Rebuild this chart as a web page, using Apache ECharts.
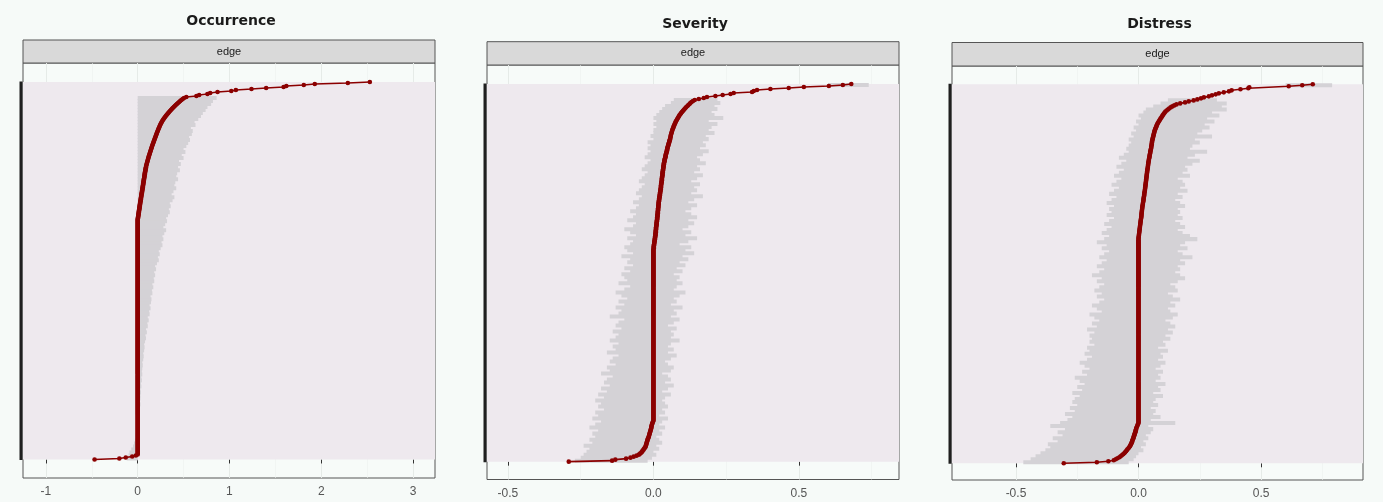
<!DOCTYPE html>
<html><head><meta charset="utf-8">
<script src="https://cdn.jsdelivr.net/npm/echarts@6/dist/echarts.min.js"></script>
<style>html,body{margin:0;padding:0;background:#f6faf8}#c{width:1383px;height:502px}</style>
</head><body><div id="c"></div><script>
const titles = ['Occurrence', 'Severity', 'Distress'];
const stripLabel = 'edge';
const occTicks = [-1, 0, 1, 2, 3];
const occMinor = [-0.5, 0.5, 1.5, 2.5];
const sevTicks = [-0.5, 0, 0.5];
const sevMinor = [-0.25, 0.25, 0.75];
const disTicks = [-0.5, 0, 0.5];
const disMinor = [-0.25, 0.25, 0.75];
// edges sorted by sample estimate (bottom -> top), one value per edge
const occSample = [
-.47,-.2,-.13,-.06,-.02, 0,0,0,0,0, 0,0,0,0,0, 0,0,0,0,0, 0,
0,0,0,0,0,0,0,0,0,0, 0,0,0,0,0,0,0,0,0,0, 0,
0,0,0,0,0,0,0,0,0,0, 0,0,0,0,0,0,0,0,0,0, 0,
0,0,0,0,0,0,0,0,0,0, 0,0,0,0,0,0,0,0,0,0, 0,
0,0,0,0,0,0,0,0,0,0, 0,0,0,0,0,0,0,0,0,0, 0,
0,0,0,0,0,0,0,0,0,0, 0,0,0,0,0,0,0,0,0,0, 0,
0,0,0,0,0,0,0,0,0,0, 0,0,0,0,0,0,0,0,0,0, 0,
0,0,0,0,0,0,0,0,0,0, 0,0,0,0,0,0,0,0,0,0, 0,
0,0,0,0,0,0,0,0,0,0, 0,0,0,0,0,0,0,0,0,0, 0,
0,0,0,0,0,0,0,0,0,0, 0,0,0,0,0,0,0,0,0,0, 0,
0,0,0,0,0,0,0,0,0,0, 0,0,0,0,0,0,0,0,0,0, 0,
0,0,0,0,0,0,0,0,0,0, .002,.004,.006,.007,.009,.010,.012,.013,.015,.017, .019,
.020,.022,.023,.025,.027, .028,.030,.032,.034,.035, .037,.039,.040,.042,.044, .046,.048,.049,.051,.053, .055,
.056,.058,.060,.061,.063, .065,.066,.068,.070,.072, .073,.075,.077,.078,.080, .082,.084,.086,.088,.090, .092,
.095,.098,.101,.104,.107, .110,.113,.116,.119,.122, .126,.129,.133,.136,.140, .143,.147,.150,.154,.157, .161,
.165,.169,.173,.177,.181, .185,.189,.193,.197,.201, .205,.209,.213,.218,.222, .226,.231,.236,.240,.245, .250,
.256,.262,.268,.275,.282, .290,.298,.306,.315,.324, .333,.342,.352,.362,.372, .382,.393,.404,.415,.427, .439,
.451,.463,.476,.490,.505, .53,.64,.67,.76,.79, .87,1.02,1.07,1.24,1.40, 1.59,1.62,1.81,1.93,2.29, 2.53
];
const sevSample = [
-.291,-.142,-.131,-.094,-.079, -.068,-.058,-.050,-.046,-.042, -.039,-.037,-.034,-.032,-.029, -.027,-.026,-.025,-.024,-.023, -.022,
-.021,-.020,-.019,-.017,-.016, -.015,-.014,-.013,-.012,-.011, -.010,-.009,-.008,-.007,-.007, -.006,-.005,-.004,-.003,-.001, 0,
0,0,0,0,0,0,0,0,0,0, 0,0,0,0,0,0,0,0,0,0, 0,
0,0,0,0,0,0,0,0,0,0, 0,0,0,0,0,0,0,0,0,0, 0,
0,0,0,0,0,0,0,0,0,0, 0,0,0,0,0,0,0,0,0,0, 0,
0,0,0,0,0,0,0,0,0,0, 0,0,0,0,0,0,0,0,0,0, 0,
0,0,0,0,0,0,0,0,0,0, 0,0,0,0,0,0,0,0,0,0, 0,
0,0,0,0,0,0,0,0,0,0, 0,0,0,0,0,0,0,0,0,0, 0,
0,0,0,0,0,0,0,0,0,0, 0,0,0,0,0,0,0,0,0,0, 0,
0,0,0,0,0,0,0,0,0,0, 0,0,0,0,0,0,0,0,0,0, 0,
0,0,0,.001,.001, .001,.002,.002,.003,.003, .004,.004,.005,.005,.006, .006,.007,.007,.007,.008, .008,
.008,.009,.009,.009,.010, .010,.011,.011,.011,.012, .012,.013,.013,.013,.014, .014,.014,.015,.015,.015, .016,
.016,.016,.017,.017,.017, .018,.018,.018,.019,.019, .020,.020,.021,.021,.022, .022,.023,.023,.024,.024, .025,
.025,.026,.026,.026,.027, .027,.028,.028,.029,.029, .029,.030,.030,.031,.031, .031,.032,.032,.033,.033, .034,
.034,.035,.035,.036,.036, .037,.038,.038,.039,.040, .041,.042,.042,.043,.044, .045,.046,.047,.047,.048, .049,
.050,.051,.052,.053,.054, .055,.056,.057,.058,.059, .059,.060,.061,.062,.063, .064,.065,.066,.068,.069, .070,
.072,.073,.075,.076,.078, .080,.082,.084,.086,.088, .090,.093,.095,.098,.101, .104,.107,.110,.113,.117, .120,
.124,.127,.131,.136,.142, .156,.173,.184,.213,.238, .265,.276,.339,.345,.356, .402,.465,.517,.603,.651, .680
];
const disSample = [
-.305,-.170,-.123,-.101,-.093, -.086,-.078,-.073,-.068,-.063, -.058,-.055,-.051,-.048,-.045, -.041,-.038,-.035,-.033,-.031, -.029,
-.027,-.026,-.025,-.023,-.021, -.020,-.019,-.017,-.016,-.015, -.013,-.012,-.011,-.010,-.009, -.007,-.005,-.004,-.002,0, 0,
0,0,0,0,0,0,0,0,0,0, 0,0,0,0,0,0,0,0,0,0, 0,
0,0,0,0,0,0,0,0,0,0, 0,0,0,0,0,0,0,0,0,0, 0,
0,0,0,0,0,0,0,0,0,0, 0,0,0,0,0,0,0,0,0,0, 0,
0,0,0,0,0,0,0,0,0,0, 0,0,0,0,0,0,0,0,0,0, 0,
0,0,0,0,0,0,0,0,0,0, 0,0,0,0,0,0,0,0,0,0, 0,
0,0,0,0,0,0,0,0,0,0, 0,0,0,0,0,0,0,0,0,0, 0,
0,0,0,0,0,0,0,0,0,0, 0,0,0,0,0,0,0,0,0,0, 0,
0,0,0,0,0,0,0,0,0,0, 0,0,0,0,0,0,0,0,0,0, 0,
0,0,0,0,0, 0,0,0,0,0, 0,0,0,0,0, .001,.001,.002,.002,.003, .003,
.004,.004,.005,.005,.006, .006,.007,.007,.008,.008, .009,.009,.010,.011,.011, .012,.012,.012,.013,.013, .014,
.014,.015,.015,.016,.016, .017,.018,.018,.019,.020, .020,.021,.021,.022,.023, .023,.024,.024,.025,.026, .026,
.027,.027,.028,.028,.029, .029,.030,.030,.031,.031, .032,.032,.033,.033,.034, .034,.035,.035,.036,.036, .037,
.038,.038,.039,.039,.040, .040,.041,.042,.042,.043, .044,.045,.045,.046,.047, .048,.048,.049,.050,.051, .052,
.052,.053,.054,.054,.055, .055,.056,.057,.058,.059, .060,.061,.062,.063,.064, .065,.066,.068,.069,.071, .073,
.074,.076,.078,.080,.083, .085,.088,.090,.093,.096, .098,.101,.104,.107,.110, .115,.120,.125,.131,.138, .146,
.155,.170,.190,.205,.225, .240,.255,.267,.287,.300, .315,.328,.348,.369,.380, .416,.448,.452,.613,.668, .711
];
// bootstrap CI bounds, one entry per block of ciGroup consecutive edges
const ciGroup = 3;
const occLow = [
-.12,-.10,-.09,-.07,-.05, -.04,-.03,-.02,-.02,-.01, -.01,0,0,0,0, 0,0,0,0,0, 0,
0,0,0,0,0, 0,0,0,0,0, 0,0,0,0,0, 0,0,0,0,0, 0,
0,0,0,0,0, 0,0,0,0,0, 0,0,0,0,0, 0,0,0,0,0, 0,
0,0,0,0,0, 0,0,0,0,0, 0,0,0,0,0, 0,0,0,0,0, 0,
0,0,0,0,0, 0,0,0,0,0, 0,0,0,0,0, 0,0,0,0,0, 0,
0,0,0,0,0, 0,0,0,0,0, 0,0,0,0,0, 0,0,0,0,0, 0
];
const occHigh = [
0,0,0,0,0, .005,.005,.005,.01,.01, .015,.02,.02,.015,.02, .025,.02,.025,.03,.025, .03,
.03,.035,.03,.04,.035, .045,.04,.05,.045,.05, .055,.05,.06,.065,.06, .07,.075,.07,.08,.09, .085,
.10,.09,.11,.105,.12, .11,.13,.125,.14,.13, .145,.15,.14,.16,.155, .17,.16,.18,.175,.19, .18,
.20,.19,.21,.23,.22, .24,.23,.25,.27,.26, .28,.27,.29,.31,.28, .30,.32,.31,.33,.35, .34,
.36,.35,.38,.40,.37, .39,.42,.40,.41,.44, .42,.43,.46,.44,.47, .45,.50,.48,.52,.50, .53,
.55,.57,.56,.59,.60, .58,.63,.62,.66,.69, .71,.74,.76,.80,.82, .86,0,0,0,0, 0
];
const sevLow = [
-.27,-.25,-.24,-.23,-.22, -.24,-.21,-.22,-.20,-.21, -.19,-.22,-.20,-.18,-.21, -.19,-.20,-.17,-.19,-.18, -.20,
-.17,-.19,-.16,-.18,-.15, -.17,-.16,-.14,-.18,-.15, -.16,-.13,-.15,-.14,-.12, -.16,-.13,-.14,-.12,-.15, -.13,
-.12,-.14,-.11,-.13,-.12, -.10,-.15,-.12,-.11,-.13, -.10,-.12,-.09,-.11,-.13, -.10,-.08,-.12,-.09,-.10, -.11,
-.08,-.10,-.07,-.09,-.08, -.11,-.07,-.09,-.10,-.08, -.07,-.09,-.06,-.08,-.10, -.07,-.06,-.09,-.07,-.06, -.08,
-.06,-.05,-.07,-.05,-.04, -.06,-.05,-.04,-.03,-.05, -.04,-.03,-.02,-.04,-.03, -.02,-.01,-.03,-.02,-.01, -.02,
-.01,-.02,0,-.01,0, 0,.01,0,.01,0, .01,.02,.03,.04,.06, .07,0,0,0,0, .60
];
const sevHigh = [
-.02,-.005,.01,0,.02, .01,.03,.02,.01,.03, .02,.04,.02,.03,.05, .02,.04,.03,.05,.04, .03,
.04,.06,.03,.05,.07, .04,.06,.05,.03,.06, .07,.05,.04,.06,.08, .05,.07,.05,.06,.09, .06,
.07,.06,.08,.05,.07, .09,.06,.08,.07,.10, .06,.08,.07,.09,.11, .07,.08,.10,.08,.09, .07,
.10,.08,.11,.09,.12, .10,.14,.11,.13,.09, .12,.15,.11,.13,.10, .12,.14,.12,.15,.13, .11,
.13,.15,.12,.14,.17, .13,.15,.14,.16,.13, .15,.17,.14,.16,.15, .18,.16,.15,.17,.19, .16,
.18,.17,.19,.18,.21, .19,.20,.22,.19,.24, .21,.20,.22,.21,.23, .22,0,0,0,0, .74
];
const disLow = [
-.47,-.44,-.42,-.40,-.38, -.36,-.37,-.33,-.35,-.31, -.33,-.30,-.36,-.32,-.29, -.27,-.30,-.26,-.28,-.25, -.27,
-.26,-.24,-.27,-.23,-.25, -.22,-.24,-.26,-.21,-.23, -.20,-.22,-.24,-.21,-.19, -.22,-.20,-.21,-.18,-.20, -.19,
-.20,-.18,-.21,-.17,-.19, -.16,-.18,-.20,-.15,-.17, -.19,-.16,-.14,-.17,-.15, -.18,-.16,-.14,-.17,-.15, -.19,
-.16,-.14,-.17,-.15,-.13, -.16,-.14,-.12,-.15,-.13, -.17,-.14,-.12,-.15,-.13, -.11,-.14,-.12,-.10,-.13, -.11,
-.12,-.10,-.13,-.11,-.09, -.12,-.10,-.08,-.11,-.09, -.07,-.10,-.08,-.06,-.09, -.07,-.05,-.08,-.06,-.04, -.05,
-.04,-.03,-.04,-.02,-.03, -.01,-.02,0,-.01,.01, 0,.02,.03,.06,.09, .12,0,0,0,0, .60
];
const disHigh = [
-.04,-.02,-.01,0,.02, .01,.03,.02,.04,.03, .05,.06,.04,.15,.05, .09,.06,.07,.05,.08, .06,
.07,.10,.06,.09,.08, .11,.07,.09,.08,.10, .07,.09,.11,.08,.10, .09,.12,.08,.11,.10, .13,
.11,.14,.12,.15,.13, .11,.14,.16,.13,.12, .15,.13,.17,.14,.12, .16,.15,.13,.16,.19, .17,
.15,.17,.16,.19,.17, .22,.18,.16,.20,.17, .19,.24,.21,.18,.16, .19,.17,.15,.18,.16, .17,
.16,.19,.17,.15,.18, .16,.20,.17,.19,.18, .16,.21,.18,.20,.19, .22,.25,.20,.23,.28, .21,
.22,.25,.23,.30,.24, .26,.29,.27,.31,.28, .33,.30,.36,.34,.36, .32,0,0,0,0, .79
];

[occSample, sevSample, disSample].forEach((a, i) => { if (a.length !== 378) throw new Error('sample ' + i + ' length ' + a.length); });
[occLow, occHigh, sevLow, sevHigh, disLow, disHigh].forEach((a, i) => { if (a.length !== 126) throw new Error('ci ' + i + ' length ' + a.length); });

const panels = [
  { title: titles[0], sample: occSample, low: occLow, high: occHigh, ticks: occTicks, minor: occMinor, decimals: 0 },
  { title: titles[1], sample: sevSample, low: sevLow, high: sevHigh, ticks: sevTicks, minor: sevMinor, decimals: 1 },
  { title: titles[2], sample: disSample, low: disLow, high: disHigh, ticks: disTicks, minor: disMinor, decimals: 1 }
];
const layout = [
  { left: 23, top: 63, width: 412, height: 415, xMin: -1.25, xMax: 3.24, yMin: -18.5, yMax: 396, stripTop: 40, titleY: 21.5 },
  { left: 487, top: 65, width: 412, height: 414.5, xMin: -0.572, xMax: 0.844, yMin: -17.8, yMax: 396, stripTop: 41.7, titleY: 24 },
  { left: 952, top: 66, width: 411, height: 414, xMin: -0.761, xMax: 0.916, yMin: -16.6, yMax: 395.2, stripTop: 42.5, titleY: 24.5 }
];

const RED = '#8b0000';
const grids = [], xAxes = [], yAxes = [], series = [], graphics = [];
panels.forEach((p, i) => {
  const L = layout[i];
  grids.push({ left: L.left, top: L.top, width: L.width, height: L.height, show: true,
    borderColor: '#555', borderWidth: 1, backgroundColor: '#f7fbf9' });
  xAxes.push({ gridIndex: i, type: 'value', min: L.xMin, max: L.xMax, position: 'bottom',
    axisLine: { show: false },
    axisTick: { show: true, length: 4, lineStyle: { color: '#333', width: 1 }, customValues: p.ticks },
    axisLabel: { customValues: p.ticks, formatter: v => Number(v).toFixed(p.decimals), color: '#555',
      fontSize: 12, margin: 8, fontFamily: 'Liberation Sans, Arial, sans-serif' },
    splitLine: { show: true, lineStyle: { color: '#e6ebe8', width: 1 } } });
  xAxes.push({ gridIndex: i, type: 'value', min: L.xMin, max: L.xMax, position: 'top',
    axisLine: { show: false }, axisTick: { show: false, customValues: p.minor }, axisLabel: { show: false },
    splitLine: { show: true, lineStyle: { color: '#edf1ef', width: 0.6 } } });
  yAxes.push({ gridIndex: i, type: 'value', min: L.yMin, max: L.yMax, show: false });

  const N = p.sample.length;
  series.push({ type: 'custom', xAxisIndex: 2 * i, yAxisIndex: i, z: 2, silent: true, clip: true,
    data: p.low.map((lo, k) => [lo, p.high[k], k]),
    renderItem: (params, api) => {
      const lo = api.value(0), hi = api.value(1), k = api.value(2);
      if (!(hi > lo)) return { type: 'group', children: [] };
      const a = api.coord([lo, k * ciGroup - 0.5]);
      const b = api.coord([hi, k * ciGroup + ciGroup - 0.5]);
      return { type: 'rect', shape: { x: a[0], y: b[1] - 0.5, width: b[0] - a[0], height: a[1] - b[1] + 1 },
        style: { fill: '#d4d2d6' } };
    } });
  series.push({ type: 'line', xAxisIndex: 2 * i, yAxisIndex: i, z: 3, silent: true,
    data: p.sample.map((v, r) => [v, r]), symbol: 'circle', symbolSize: 4.6, showSymbol: true,
    lineStyle: { color: RED, width: 1.6 }, itemStyle: { color: RED }, emphasis: { disabled: true },
    markArea: { silent: true, itemStyle: { color: '#eee9ee' }, data: [[{ yAxis: 0 }, { yAxis: N - 1 }]] } });
  series.push({ type: 'custom', xAxisIndex: 2 * i, yAxisIndex: i, z: 4, silent: true, clip: false,
    data: [[L.xMin, 0, N - 1]],
    renderItem: (params, api) => {
      const t = api.coord([api.value(0), api.value(2)]);
      const b = api.coord([api.value(0), api.value(1)]);
      const x0 = params.coordSys.x;
      return { type: 'rect', shape: { x: x0 - 3.5, y: t[1] - 0.5, width: 3, height: b[1] - t[1] + 1 },
        style: { fill: '#1f1f1f' } };
    } });

  graphics.push({ type: 'rect', silent: true, shape: { x: L.left, y: L.stripTop, width: L.width, height: L.top - L.stripTop },
    style: { fill: '#d9d9d9', stroke: '#555', lineWidth: 1 } });
  graphics.push({ type: 'text', silent: true, x: L.left + L.width / 2, y: (L.stripTop + L.top) / 2,
    style: { text: stripLabel, font: '11px "Liberation Sans", Arial, sans-serif', fill: '#1a1a1a', align: 'center', verticalAlign: 'middle' } });
  graphics.push({ type: 'text', silent: true, x: L.left + L.width / 2 + 2, y: L.titleY,
    style: { text: p.title, font: 'bold 14px "DejaVu Sans", sans-serif', fill: '#1a1a1a', align: 'center', verticalAlign: 'middle' } });
});

const chart = echarts.init(document.getElementById('c'));
chart.setOption({
  backgroundColor: '#f6faf8',
  animation: false,
  tooltip: { show: false },
  grid: grids, xAxis: xAxes, yAxis: yAxes, series: series,
  graphic: { elements: graphics }
});
</script></body></html>
